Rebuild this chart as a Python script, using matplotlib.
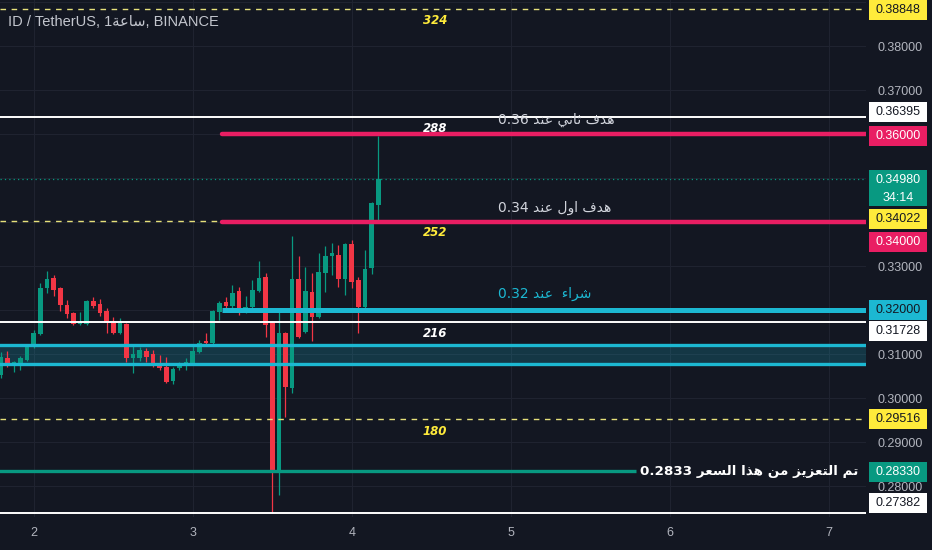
import numpy as np
import matplotlib.pyplot as plt
from matplotlib.patches import Rectangle
from matplotlib import transforms

plt.rcParams['font.family'] = ['Liberation Sans', 'DejaVu Sans']

BG = '#131722'
GRID = '#1f2330'
AXIS_TXT = '#b2b5be'
UP = '#089981'
DOWN = '#f23645'
PINK = '#e91e63'
CYAN = '#1cb8d2'
YELLOW = '#ffeb3b'

# hourly candles (ID/USDT 1h)
first_hour = 1.79
opens = [0.30523, 0.30909, 0.30773, 0.30773, 0.30864, 0.31182, 0.31455, 0.32500, 0.32727, 0.32500,
         0.32114, 0.31932, 0.31682, 0.31682, 0.32205, 0.32136, 0.31977, 0.31705, 0.31477, 0.31682,
         0.30909, 0.30909, 0.31068, 0.31000, 0.30773, 0.30705, 0.30386, 0.30682, 0.30750, 0.30795,
         0.31045, 0.31295, 0.31250, 0.31955, 0.32182, 0.32091, 0.32432, 0.31955, 0.32068, 0.32432,
         0.32750, 0.31705, 0.28318, 0.31477, 0.30227, 0.32705, 0.31500, 0.32409, 0.31841, 0.32841,
         0.33227, 0.33250, 0.32705, 0.33500, 0.32682, 0.32068, 0.32955, 0.34386]
highs = [0.31045, 0.31068, 0.30841, 0.30955, 0.31227, 0.31545, 0.32614, 0.32886, 0.32795, 0.32523,
         0.32227, 0.31955, 0.31955, 0.32227, 0.32295, 0.32250, 0.32045, 0.31841, 0.31818, 0.31705,
         0.31205, 0.31159, 0.31136, 0.31091, 0.30977, 0.30932, 0.30705, 0.30818, 0.30909, 0.31205,
         0.31318, 0.31477, 0.32000, 0.32205, 0.32295, 0.32568, 0.32523, 0.32318, 0.32682, 0.33114,
         0.32841, 0.31750, 0.32000, 0.31500, 0.33682, 0.33227, 0.32977, 0.32841, 0.33295, 0.33455,
         0.33523, 0.33477, 0.33523, 0.33591, 0.32750, 0.33364, 0.34455, 0.35955]
lows = [0.30455, 0.30705, 0.30591, 0.30636, 0.30841, 0.31136, 0.31432, 0.32386, 0.32318, 0.31977,
        0.31818, 0.31659, 0.31659, 0.31659, 0.32045, 0.31864, 0.31477, 0.31455, 0.31455, 0.30818,
        0.30568, 0.30841, 0.30818, 0.30705, 0.30636, 0.30341, 0.30318, 0.30636, 0.30636, 0.30773,
        0.31023, 0.31227, 0.31227, 0.31773, 0.31955, 0.32045, 0.31886, 0.31932, 0.32045, 0.32409,
        0.31386, 0.27382, 0.27795, 0.29568, 0.30114, 0.31364, 0.31477, 0.31295, 0.31818, 0.32409,
        0.32795, 0.32523, 0.32341, 0.32500, 0.31477, 0.32045, 0.32818, 0.34045]
closes = [0.30932, 0.30750, 0.30818, 0.30909, 0.31205, 0.31477, 0.32500, 0.32705, 0.32455, 0.32114,
          0.31909, 0.31682, 0.31727, 0.32205, 0.32091, 0.31932, 0.31705, 0.31477, 0.31705, 0.30909,
          0.31000, 0.31091, 0.30932, 0.30727, 0.30682, 0.30364, 0.30659, 0.30773, 0.30818, 0.31068,
          0.31250, 0.31250, 0.31977, 0.32159, 0.32091, 0.32386, 0.31955, 0.32068, 0.32455, 0.32727,
          0.31659, 0.28318, 0.31477, 0.30250, 0.32705, 0.31386, 0.32432, 0.31841, 0.32864, 0.33227,
          0.33295, 0.32705, 0.33500, 0.32636, 0.32068, 0.32932, 0.34432, 0.34980]

day_ticks = [2, 3, 4, 5, 6, 7]
price_ticks = [0.28, 0.29, 0.30, 0.31, 0.32, 0.33, 0.34, 0.35, 0.36, 0.37, 0.38, 0.39]
hidden_ticks = [0.32, 0.34, 0.35, 0.36, 0.39]  # covered by the price tags

last_price = 0.34980
countdown = '34:14'
target2 = 0.36
target1 = 0.34
buy = 0.32
zone_top, zone_bottom = 0.31205, 0.30773
add_price = 0.2833
white_levels = [0.36395, 0.31728, 0.27382]
yellow_levels = [0.38848, 0.34022, 0.29516]
counts = [(0.38848, '324', YELLOW), (0.36395, '288', 'white'), (0.34022, '252', YELLOW),
          (0.31728, '216', 'white'), (0.29516, '180', YELLOW)]
line_start = 3.182
add_end = 5.786

txt_target2 = 'هدف ثاني عند 0.36'
txt_target1 = 'هدف اول عند 0.34'
txt_buy = 'شراء  عند 0.32'
txt_add = 'تم التعزيز من هذا السعر 0.2833'
txt_hour = 'ساعة'

# --- minimal Arabic shaping (matplotlib has no text shaping) ---
FORMS = {
    'ء': ('\uFE80', None, None, None),
    'ا': ('\uFE8D', '\uFE8E', None, None),
    'ة': ('\uFE93', '\uFE94', None, None),
    'ت': ('\uFE95', '\uFE96', '\uFE97', '\uFE98'),
    'ث': ('\uFE99', '\uFE9A', '\uFE9B', '\uFE9C'),
    'د': ('\uFEA9', '\uFEAA', None, None),
    'ذ': ('\uFEAB', '\uFEAC', None, None),
    'ر': ('\uFEAD', '\uFEAE', None, None),
    'ز': ('\uFEAF', '\uFEB0', None, None),
    'س': ('\uFEB1', '\uFEB2', '\uFEB3', '\uFEB4'),
    'ش': ('\uFEB5', '\uFEB6', '\uFEB7', '\uFEB8'),
    'ع': ('\uFEC9', '\uFECA', '\uFECB', '\uFECC'),
    'ف': ('\uFED1', '\uFED2', '\uFED3', '\uFED4'),
    'ل': ('\uFEDD', '\uFEDE', '\uFEDF', '\uFEE0'),
    'م': ('\uFEE1', '\uFEE2', '\uFEE3', '\uFEE4'),
    'ن': ('\uFEE5', '\uFEE6', '\uFEE7', '\uFEE8'),
    'ه': ('\uFEE9', '\uFEEA', '\uFEEB', '\uFEEC'),
    'و': ('\uFEED', '\uFEEE', None, None),
    'ي': ('\uFEF1', '\uFEF2', '\uFEF3', '\uFEF4'),
}


def shape(word):
    out = []
    for i, ch in enumerate(word):
        f = FORMS.get(ch)
        if f is None:
            out.append(ch)
            continue
        prev = FORMS.get(word[i - 1]) if i > 0 else None
        nxt = FORMS.get(word[i + 1]) if i + 1 < len(word) else None
        jp = prev is not None and prev[2] is not None and f[1] is not None
        jn = nxt is not None and f[2] is not None and nxt[1] is not None
        if jp and jn:
            out.append(f[3])
        elif jp:
            out.append(f[1])
        elif jn:
            out.append(f[2])
        else:
            out.append(f[0])
    return ''.join(out)


def rtl(text):
    toks = []
    for t in reversed(text.split(' ')):
        if any(c in FORMS for c in t):
            toks.append(shape(t)[::-1])
        else:
            toks.append(t)
    return ' '.join(toks)


fig = plt.figure(figsize=(9.32, 5.5), dpi=100, facecolor=BG)
ax = fig.add_axes([0, 33 / 550, 866 / 932, 517 / 550], facecolor=BG)

x_lo, x_hi = 1.7862, 7.2327
y_lo, y_hi = 0.272955, 0.390455
ax.set_xlim(x_lo, x_hi)
ax.set_ylim(y_lo, y_hi)
PX = (y_hi - y_lo) / 517  # one pixel in price units

for s in ax.spines.values():
    s.set_visible(False)

ax.set_xticks(day_ticks)
ax.set_xticklabels([str(d) for d in day_ticks])
ax.set_yticks(price_ticks)
ax.set_yticklabels(['' if any(abs(p - q) < 1e-9 for q in hidden_ticks) else '%.5f' % p
                    for p in price_ticks])
ax.yaxis.tick_right()
ax.tick_params(axis='y', length=0, pad=8.0, labelsize=9, labelcolor=AXIS_TXT)
ax.tick_params(axis='x', length=0, pad=7, labelsize=9, labelcolor=AXIS_TXT)
ax.grid(True, color=GRID, linewidth=0.8)
ax.set_axisbelow(True)

# zone
ax.axhspan(zone_bottom, zone_top, color=CYAN, alpha=0.2, lw=0, zorder=1)

# candles
t = first_hour + np.arange(len(opens)) / 24.0
o = np.array(opens); h = np.array(highs); l = np.array(lows); c = np.array(closes)
cols = np.where(c >= o, UP, DOWN)
ax.vlines(t, l, h, colors=cols, linewidth=0.9, zorder=2)
body = np.maximum(np.abs(c - o), PX)
ax.bar(t, body, bottom=np.minimum(o, c), width=0.7 / 24, color=cols, linewidth=0, zorder=2)

# levels
for y in yellow_levels:
    ax.axhline(y, color='#e6e07a', linewidth=1.0, dashes=(4, 4), zorder=3)
ax.axhline(last_price, color=UP, linewidth=0.9, linestyle=(0, (1, 2.5)), zorder=3)
for y in white_levels:
    ax.axhline(y, color='white', linewidth=1.4, zorder=4)
ax.axhline(zone_top, color=CYAN, linewidth=2.4, zorder=4)
ax.axhline(zone_bottom, color=CYAN, linewidth=2.4, zorder=4)
ax.hlines([target2, target1], line_start, x_hi + 1, colors=PINK, linewidth=3.2,
          capstyle='round', zorder=5)
ax.hlines(buy, line_start, x_hi + 1, colors=CYAN, linewidth=3.6, zorder=5)
ax.hlines(add_price, x_lo - 1, add_end, colors=UP, linewidth=2.4, zorder=5)

# count labels under the levels
for y, s, col in counts:
    ax.annotate(s, (4.522, y), xytext=(0, -8.6), textcoords='offset points',
                ha='center', va='center', color=col, fontsize=8.5,
                fontweight='bold', fontstyle='italic', family=['DejaVu Sans'], zorder=6)

# line texts
ax.annotate(rtl(txt_target2), (4.918, target2), xytext=(0, 10), textcoords='offset points',
            ha='left', va='center', color='#d1d4dc', fontsize=10, family=['DejaVu Sans'], zorder=6)
ax.annotate(rtl(txt_target1), (4.918, target1), xytext=(0, 10), textcoords='offset points',
            ha='left', va='center', color='#d1d4dc', fontsize=10, family=['DejaVu Sans'], zorder=6)
ax.annotate(rtl(txt_buy), (4.918, buy), xytext=(0, 11.5), textcoords='offset points',
            ha='left', va='center', color=CYAN, fontsize=10, family=['DejaVu Sans'], zorder=6)
ax.annotate(rtl(txt_add), (add_end, add_price), xytext=(3, 0), textcoords='offset points',
            ha='left', va='center', color='white', fontsize=9.7, fontweight='bold',
            family=['DejaVu Sans'], zorder=6)

# header
ax.text(8 / 866, 1 - 22 / 517, 'ID / TetherUS, 1' + shape(txt_hour)[::-1] + ', BINANCE',
        transform=ax.transAxes, ha='left', va='center', color='#c3c6ce', fontsize=10.5, zorder=6)

# price tags on the right scale
tagtr = transforms.blended_transform_factory(ax.transAxes, ax.transData)
tags = [
    (0.38848, YELLOW, BG, -1.5),
    (0.36395, 'white', BG, 5),
    (0.36000, PINK, 'white', -2),
    (0.34022, YELLOW, BG, 2),
    (0.34000, PINK, 'white', -20),
    (0.32000, CYAN, BG, 0),
    (0.31728, 'white', BG, -9),
    (0.29516, YELLOW, BG, 0),
    (0.28330, UP, 'white', -1),
    (0.27382, 'white', BG, 10),
]
bx0, bw = 869 / 866, 58 / 866
for v, bg, fg, shift in tags:
    yc = v + shift * PX
    ax.add_patch(Rectangle((bx0, yc - 10 * PX), bw, 20 * PX, transform=tagtr,
                           facecolor=bg, edgecolor='none', clip_on=False, zorder=10))
    ax.text(bx0 + bw / 2, yc, '%.5f' % v, transform=tagtr, ha='center', va='center',
            color=fg, fontsize=9, clip_on=False, zorder=11)

ax.add_patch(Rectangle((bx0, last_price - 27 * PX), bw, 36 * PX, transform=tagtr,
                       facecolor=UP, edgecolor='none', clip_on=False, zorder=10))
ax.text(bx0 + bw / 2, last_price - 1 * PX, '%.5f' % last_price, transform=tagtr,
        ha='center', va='center', color='white', fontsize=9, clip_on=False, zorder=11)
ax.text(bx0 + bw / 2, last_price - 19 * PX, countdown, transform=tagtr,
        ha='center', va='center', color='white', fontsize=9, clip_on=False, zorder=11)

fig.savefig('out.png', dpi=100, facecolor=BG)
